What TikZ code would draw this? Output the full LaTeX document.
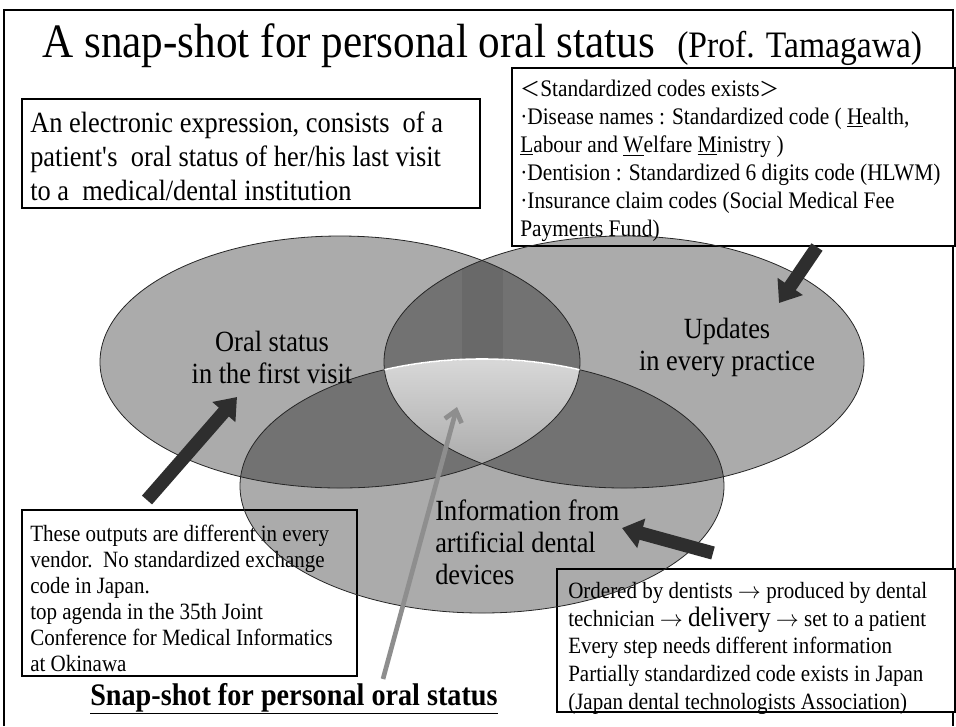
\documentclass[tikz,border=0pt]{standalone}
\usepackage{fontspec}
\setmainfont{Liberation Serif}[FakeStretch=0.9]
\newfontfamily\cjk{Noto Sans CJK JP}
\usetikzlibrary{arrows.meta}
\definecolor{SSDark}{HTML}{2E2E2E}
\definecolor{SSGrey}{HTML}{8E8E8E}
\definecolor{SSLensTop}{HTML}{DCDCDC}
\definecolor{SSLensLow}{HTML}{ABABAB}

\begin{document}
\begin{tikzpicture}[x=0.75pt,y=-0.75pt,
  infobox/.style={draw=black,line width=.8pt,fill=white},
  boxtext/.style={anchor=north west,align=left,inner sep=0pt},
  bubble/.style={fill=black,fill opacity=.33},
  bubbleline/.style={draw=black!85,line width=.6pt},
  bubbletext/.style={anchor=north,align=center,inner sep=0pt,font=\fontsize{22}{24}\selectfont},
  blockarrow/.style={SSDark,line width=10pt,-{Triangle[width=22pt,length=15pt]}},
  snaparrow/.style={SSGrey,line width=3.5pt,-{Straight Barb[width=13pt,length=8pt]}}]
\path[use as bounding box] (0,0) rectangle (956,726);
\fill[white] (0,0) rectangle (956,726);
\draw[line width=1.5pt] (4,726) -- (4,10) -- (953,10) -- (953,726);
\node[anchor=base west,inner sep=0pt] (title) at (42,57) {\fontsize{36}{40}\selectfont A snap-shot for personal oral status};
\node[anchor=base west,inner sep=0pt] (prof) at (677,57) {\fontsize{28}{32}\selectfont (Prof. Tamagawa)};
% boxes below the circles
\draw[infobox] (22,99) rectangle (480,208);
\node[boxtext,font=\fontsize{22}{25.5}\selectfont] (expr) at (30,112) {An electronic expression, consists\ \ of a\\patient\textquotesingle s\ \ oral status of her/his last visit\\to a\ \ medical/dental institution};
\draw[infobox] (512,68) rectangle (955,246);
\node[boxtext,font=\fontsize{17.8}{21}\selectfont] (codes) at (520,80) {{\cjk\fontsize{15}{21}\selectfont ＜}Standardized codes exists{\cjk\fontsize{15}{21}\selectfont ＞}\\·Disease names : Standardized code ( \underline{H}ealth,\\\underline{L}abour and \underline{W}elfare \underline{M}inistry )\\·Dentision : Standardized 6 digits code (HLWM)\\·Insurance claim codes (Social Medical Fee\\Payments Fund)};
\draw[infobox] (22,510) rectangle (357,676);
\node[boxtext,font=\fontsize{17.5}{19.5}\selectfont] (vendor) at (30,525) {These outputs are different in every\\vendor.\ \ No standardized exchange\\code in Japan.\\top agenda in the 35th Joint\\Conference for Medical Informatics\\at Okinawa};
\draw[infobox] (557,569) rectangle (955,712);
\node[boxtext,font=\fontsize{17.5}{20.8}\selectfont] (order) at (568,582) {Ordered by dentists $\rightarrow$ produced by dental\\technician $\rightarrow$ {\fontsize{21}{20.8}\selectfont delivery} $\rightarrow$ set to a patient\\Every step needs different information\\Partially standardized code exists in Japan\\(Japan dental technologists Association)};
% the three circles
\fill[bubble] (340,362) ellipse (240 and 126);
\fill[bubble] (624,362) ellipse (240 and 126);
\fill[bubble] (482,486) ellipse (242 and 127);
\begin{scope}
\clip (340,362) ellipse (240 and 126);
\clip (624,362) ellipse (240 and 126);
\fill[black,opacity=.07] (462,230) rectangle (503,380);
\clip (482,486) ellipse (242 and 127);
\shade[top color=SSLensTop,bottom color=SSLensLow] (380,350) rectangle (585,466);
\end{scope}
\draw[bubbleline] (340,362) ellipse (240 and 126);
\draw[bubbleline] (624,362) ellipse (240 and 126);
\draw[bubbleline] (482,486) ellipse (242 and 127);
\begin{scope}
\clip (340,362) ellipse (240 and 126);
\clip (624,362) ellipse (240 and 126);
\draw[white,line width=1.2pt] (482,486) ellipse (242 and 127);
\end{scope}
\node[bubbletext] (first) at (272,331) {Oral status\\in the first visit};
\node[bubbletext] (update) at (727,318) {Updates\\in every practice};
\node[bubbletext,anchor=north west,align=left] (device) at (435,500) {Information from\\artificial dental\\devices};
\node[anchor=base west,inner sep=0pt] (snap) at (90,705) {\fontsize{23.5}{26}\selectfont\bfseries\underline{Snap-shot for personal oral status}};
% arrows
\coordinate (codesout) at (817,247);
\coordinate (updatein) at (779,303);
\coordinate (vendorout) at (147,500);
\coordinate (firstin) at (237,397);
\coordinate (orderout) at (713,553);
\coordinate (devicein) at (622,528);
\coordinate (snapout) at (383,679);
\coordinate (snapin) at (457,407);
\draw[blockarrow] (codesout) -- (updatein);
\draw[blockarrow] (vendorout) -- (firstin);
\draw[blockarrow] (orderout) -- (devicein);
\draw[snaparrow] (snapout) -- (snapin);
\end{tikzpicture}
\end{document}
